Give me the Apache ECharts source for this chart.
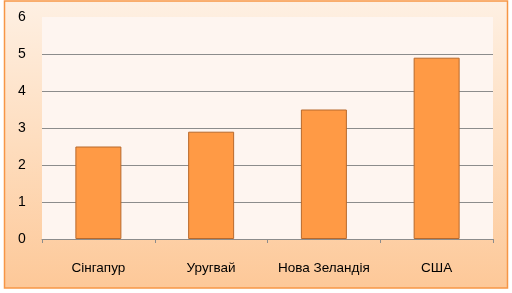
<!DOCTYPE html>
<html><head><meta charset="utf-8">
<script src="https://cdn.jsdelivr.net/npm/echarts@6/dist/echarts.min.js"></script>
<style>html,body{margin:0;padding:0;background:#fff}#c{width:512px;height:293px}</style>
</head><body><div id="c"></div>
<script>
const categories = ['Сінгапур', 'Уругвай', 'Нова Зеландія', 'США'];
const values = [2.5, 2.9, 3.5, 4.9];
const yTicks = [0, 1, 2, 3, 4, 5, 6];

const chart = echarts.init(document.getElementById('c'), null, {renderer: 'canvas'});
const font = '"Liberation Sans", "DejaVu Sans", sans-serif';
chart.setOption({
  animation: false,
  graphic: [{
    type: 'rect', z: -10,
    shape: {x: 4.5, y: 1, width: 503, height: 287},
    style: {
      fill: new echarts.graphic.LinearGradient(0, 0, 0, 1, [
        {offset: 0, color: '#FEF0E3'},
        {offset: 0.5, color: '#FEDDBE'},
        {offset: 1, color: '#FDC898'}
      ]),
      stroke: '#F79646', lineWidth: 1.5
    }
  }, {
    type: 'rect', z: -9,
    shape: {x: 42, y: 17, width: 451, height: 222},
    style: {fill: '#FEF5F0'}
  }],
  grid: {left: 42, right: 19, top: 17, bottom: 54, containLabel: false},
  xAxis: {
    type: 'category', data: categories,
    axisLine: {show: true, lineStyle: {color: '#8C8C8C', width: 1}},
    axisTick: {show: true, length: 4, lineStyle: {color: '#8C8C8C'}},
    axisLabel: {color: '#000', fontFamily: font, fontSize: 13.5, margin: 22, interval: 0}
  },
  yAxis: {
    type: 'value', min: yTicks[0], max: yTicks[yTicks.length - 1], interval: 1,
    axisLine: {show: false}, axisTick: {show: false},
    axisLabel: {color: '#000', fontFamily: font, fontSize: 14, margin: 20, align: 'center'},
    splitLine: {show: true, lineStyle: {color: ['#8C8C8C','#8C8C8C','#8C8C8C','#8C8C8C','#8C8C8C','#8C8C8C','rgba(0,0,0,0)'], width: 1}}
  },
  series: [{
    type: 'bar', data: values, barWidth: 46,
    itemStyle: {color: '#FF9A45', borderColor: '#B8692C', borderWidth: 1}
  }]
});
</script></body></html>
